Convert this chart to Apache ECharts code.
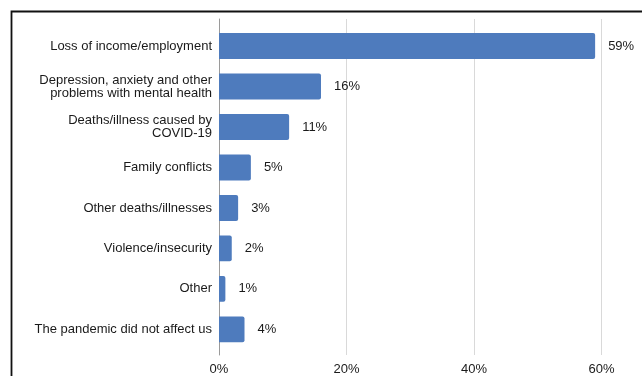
<!DOCTYPE html>
<html>
<head>
<meta charset="utf-8">
<script src="https://cdn.jsdelivr.net/npm/echarts@6/dist/echarts.min.js"></script>
<style>
  html, body { margin: 0; padding: 0; background: #fff; }
  #chart { width: 642px; height: 376px; }
</style>
</head>
<body>
<div id="chart"></div>
<script>
(function(){
	'use strict';

	// 数据
	var categories = [
		'Loss of income/employment',
		'Depression, anxiety and other\nproblems with mental health',
		'Deaths/illness caused by\nCOVID-19',
		'Family conflicts',
		'Other deaths/illnesses',
		'Violence/insecurity',
		'Other',
		'The pandemic did not affect us'
	];
	var values = [59, 16, 11, 5, 3, 2, 1, 4];
	var tickMax = 60;
	var tickStep = 20;

	var font = '"Liberation Sans", Arial, sans-serif';
	var textColor = '#1a1a1a';
	var myChart = echarts.init(document.getElementById('chart'), null, { renderer: 'canvas' });

	var option = {
		animation: false,
		backgroundColor: '#fff',
		textStyle: { fontFamily: font },
		graphic: [{
			type: 'rect',
			silent: true,
			shape: { x: 11.5, y: 11.5, width: 700, height: 420 },
			style: { fill: 'none', stroke: '#111', lineWidth: 1.8 }
		}],
		grid: [
			// 柱子
			{ left: 219, right: 40.5, top: 25.8, bottom: 26.4 },
			// 网格线和刻度
			{ left: 219, right: 40.5, top: 19, bottom: 20 }
		],
		xAxis: [
			{
				gridIndex: 0, type: 'value', min: 0, max: tickMax, interval: tickStep,
				show: false
			},
			{
				gridIndex: 1, type: 'value', min: 0, max: tickMax, interval: tickStep,
				position: 'bottom',
				axisLine: { show: false },
				axisTick: { show: false },
				splitLine: { show: true, lineStyle: { color: '#d9d9d9', width: 1 } },
				axisLabel: {
					formatter: '{value}%',
					color: textColor,
					fontSize: 13,
					fontFamily: font,
					margin: 8
				}
			}
		],
		yAxis: [
			{
				gridIndex: 0, type: 'category', data: categories, inverse: true,
				axisLine: { show: false },
				axisTick: { show: false },
				axisLabel: {
					color: textColor,
					fontSize: 13,
					fontFamily: font,
					lineHeight: 13,
					margin: 7,
					align: 'right'
				}
			},
			{
				gridIndex: 1, type: 'value', min: 0, max: 1,
				axisLine: { show: true, onZero: false, lineStyle: { color: '#9a9a9a', width: 1 } },
				axisTick: { show: false },
				axisLabel: { show: false },
				splitLine: { show: false }
			}
		],
		series: [{
			type: 'bar',
			xAxisIndex: 0,
			yAxisIndex: 0,
			data: values,
			barCategoryGap: '36%',
			itemStyle: {
				color: '#4e7bbd',
				borderRadius: [0, 2, 2, 0]
			},
			label: {
				show: true,
				position: 'right',
				distance: 13,
				formatter: '{c}%',
				color: textColor,
				fontSize: 13,
				fontFamily: font
			},
			z: 3
		}]
	};

	myChart.setOption(option);
}());
</script>
</body>
</html>
